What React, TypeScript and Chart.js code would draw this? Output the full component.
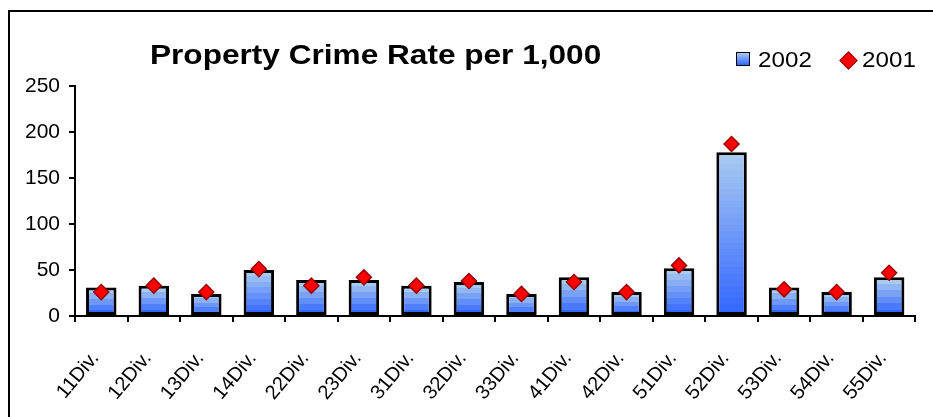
import { useEffect, useRef } from 'react';
import { Chart, registerables } from 'chart.js';

Chart.register(...registerables);

// Property crime rate per 1,000 residents, by police division
const divisions = [
  '11Div.', '12Div.', '13Div.', '14Div.', '22Div.', '23Div.', '31Div.', '32Div.',
  '33Div.', '41Div.', '42Div.', '51Div.', '52Div.', '53Div.', '54Div.', '55Div.',
];
const rate2002 = [31, 33, 24, 50, 39, 39, 33, 37, 24, 42, 26, 52, 178, 31, 26, 42];
const rate2001 = [26, 33, 26, 51, 33, 42, 33, 38, 24, 37, 26, 55, 187, 29, 26, 47];
const yTicks = [0, 50, 100, 150, 200, 250];

const FONT = "'Liberation Sans', Arial, Helvetica, sans-serif";
const LIGHT: [number, number, number] = [168, 202, 241];
const DARK: [number, number, number] = [51, 102, 255];

function mix(t: number) {
  const c = LIGHT.map((l, i) => Math.round(l + (DARK[i] - l) * t));
  return `rgb(${c[0]},${c[1]},${c[2]})`;
}

// Banded top-to-bottom fill for each bar, from its top down to the baseline
function barFill(ctx: any) {
  const chart = ctx.chart;
  const y = chart.scales && chart.scales.y;
  if (ctx.type !== 'data' || !y || !chart.chartArea) return mix(0.5);
  const top = y.getPixelForValue(ctx.raw as number);
  const bottom = y.getPixelForValue(0);
  const h = Math.max(1, bottom - top);
  const bands = Math.max(5, Math.round(h / 6));
  const g = chart.ctx.createLinearGradient(0, top, 0, bottom);
  for (let i = 0; i < bands; i++) {
    const c = mix(i / (bands - 1));
    g.addColorStop(i / bands, c);
    g.addColorStop((i + 1) / bands, c);
  }
  return g;
}

export default function App() {
  const canvasRef = useRef<HTMLCanvasElement | null>(null);

  useEffect(() => {
    const canvas = canvasRef.current;
    if (!canvas) return;
    const chart = new Chart(canvas, {
      type: 'bar',
      data: {
        labels: divisions,
        datasets: [
          {
            type: 'line',
            label: '2001',
            data: rate2001,
            showLine: false,
            pointStyle: 'rectRot',
            pointRadius: 7.5,
            pointHoverRadius: 7.5,
            pointBackgroundColor: '#ff0000',
            pointBorderColor: '#9a0000',
            pointBorderWidth: 1.5,
            order: 0,
          } as any,
          {
            type: 'bar',
            label: '2002',
            data: rate2002,
            backgroundColor: barFill,
            borderColor: '#000000',
            borderWidth: 3,
            borderSkipped: false,
            barPercentage: 0.58,
            categoryPercentage: 1,
            order: 1,
          },
        ],
      },
      options: {
        responsive: false,
        animation: false,
        layout: { padding: { top: 74, right: 15, left: 0, bottom: 0 } },
        plugins: {
          legend: { display: false },
          title: { display: false },
          tooltip: { enabled: false },
        },
        scales: {
          x: {
            offset: true,
            grid: {
              offset: true,
              drawOnChartArea: false,
              drawTicks: true,
              tickLength: 6,
              color: '#000000',
              lineWidth: 2,
            },
            border: { display: true, color: '#000000', width: 2 },
            ticks: {
              color: '#000000',
              font: { family: FONT, size: 20 },
              minRotation: 50,
              maxRotation: 50,
              autoSkip: false,
              padding: 25,
              labelOffset: -6,
            },
            afterFit: (scale: any) => {
              scale.height = 101;
            },
          },
          y: {
            min: yTicks[0],
            max: yTicks[yTicks.length - 1],
            afterBuildTicks: (scale: any) => {
              scale.ticks = yTicks.map((v) => ({ value: v }));
            },
            grid: {
              drawOnChartArea: false,
              drawTicks: true,
              tickLength: 6,
              color: '#000000',
              lineWidth: 2,
            },
            border: { display: true, color: '#000000', width: 2 },
            ticks: {
              color: '#000000',
              font: { family: FONT, size: 21 },
              padding: 9,
            },
            afterFit: (scale: any) => {
              scale.width = 65;
            },
          },
        },
      },
    });
    return () => chart.destroy();
  }, []);

  return (
    <div
      style={{
        position: 'fixed',
        left: 8,
        top: 10,
        width: 940,
        height: 420,
        border: '2px solid #000',
        background: '#fff',
        overflow: 'hidden',
        fontFamily: FONT,
        color: '#000',
      }}
    >
      <canvas
        ref={canvasRef}
        width={923}
        height={405}
        style={{ position: 'absolute', left: 0, top: 0, display: 'block' }}
      />
      <div
        style={{
          position: 'absolute',
          left: 140,
          top: 30,
          fontSize: 27,
          lineHeight: '27px',
          fontWeight: 'bold',
          whiteSpace: 'nowrap',
          transform: 'scaleX(1.17)',
          transformOrigin: 'left top',
        }}
      >
        Property Crime Rate per 1,000
      </div>
      <div
        style={{
          position: 'absolute',
          left: 726,
          top: 40,
          width: 12,
          height: 12,
          border: '1.5px solid #000',
          background: `linear-gradient(to bottom, ${mix(0)}, ${mix(1)})`,
        }}
      />
      <div
        style={{
          position: 'absolute',
          left: 748,
          top: 37,
          fontSize: 22,
          lineHeight: '22px',
          whiteSpace: 'nowrap',
          transform: 'scaleX(1.1)',
          transformOrigin: 'left top',
        }}
      >
        2002
      </div>
      <div
        style={{
          position: 'absolute',
          left: 831.5,
          top: 41.5,
          width: 11,
          height: 11,
          background: '#ff0000',
          border: '1px solid #9a0000',
          transform: 'rotate(45deg)',
        }}
      />
      <div
        style={{
          position: 'absolute',
          left: 852,
          top: 37,
          fontSize: 22,
          lineHeight: '22px',
          whiteSpace: 'nowrap',
          transform: 'scaleX(1.1)',
          transformOrigin: 'left top',
        }}
      >
        2001
      </div>
    </div>
  );
}
